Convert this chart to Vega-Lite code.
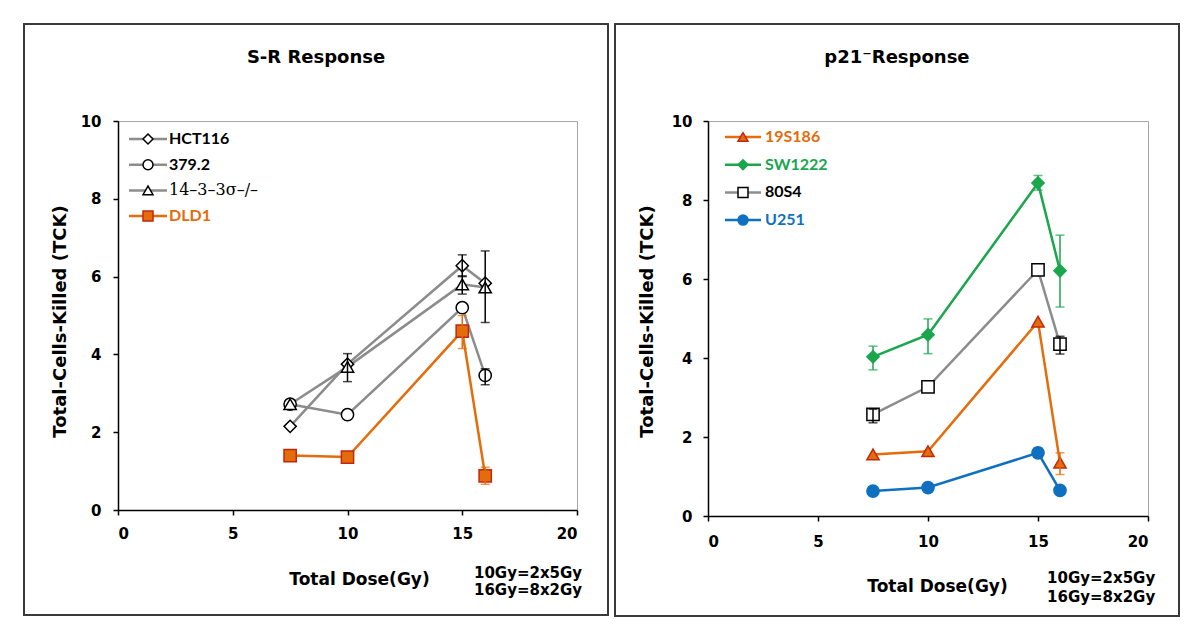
{
  "$schema": "https://vega.github.io/schema/vega-lite/v6.json",
  "background": "white",
  "padding": {"left": 22, "top": 22, "right": 0, "bottom": 0},
  "spacing": 3,
  "resolve": {
    "scale": {"x": "independent", "y": "independent", "color": "independent", "shape": "independent", "fill": "independent", "stroke": "independent"},
    "legend": {"color": "independent", "shape": "independent", "fill": "independent", "stroke": "independent"},
    "axis": {"x": "independent", "y": "independent"}
  },
  "datasets": {
    "left": [
      {"series": "HCT116", "dose": 7.5, "tck": 2.15, "lo": null, "hi": null},
      {"series": "HCT116", "dose": 10, "tck": 3.75, "lo": null, "hi": null},
      {"series": "HCT116", "dose": 15, "tck": 6.28, "lo": 6.0, "hi": 6.56},
      {"series": "HCT116", "dose": 16, "tck": 5.83, "lo": null, "hi": null},
      {"series": "379.2", "dose": 7.5, "tck": 2.72, "lo": null, "hi": null},
      {"series": "379.2", "dose": 10, "tck": 2.45, "lo": null, "hi": null},
      {"series": "379.2", "dose": 15, "tck": 5.2, "lo": null, "hi": null},
      {"series": "379.2", "dose": 16, "tck": 3.46, "lo": 3.22, "hi": 3.63},
      {"series": "14–3–3σ–/–", "dose": 7.5, "tck": 2.72, "lo": null, "hi": null},
      {"series": "14–3–3σ–/–", "dose": 10, "tck": 3.68, "lo": 3.3, "hi": 4.02},
      {"series": "14–3–3σ–/–", "dose": 15, "tck": 5.8, "lo": 5.55, "hi": 6.02},
      {"series": "14–3–3σ–/–", "dose": 16, "tck": 5.72, "lo": 4.82, "hi": 6.66},
      {"series": "DLD1", "dose": 7.5, "tck": 1.4, "lo": null, "hi": null},
      {"series": "DLD1", "dose": 10, "tck": 1.36, "lo": null, "hi": null},
      {"series": "DLD1", "dose": 15, "tck": 4.6, "lo": 4.15, "hi": 5.0},
      {"series": "DLD1", "dose": 16, "tck": 0.88, "lo": 0.66, "hi": 1.1}
    ],
    "right": [
      {"series": "19S186", "dose": 7.5, "tck": 1.56, "lo": null, "hi": null},
      {"series": "19S186", "dose": 10, "tck": 1.64, "lo": null, "hi": null},
      {"series": "19S186", "dose": 15, "tck": 4.92, "lo": null, "hi": null},
      {"series": "19S186", "dose": 16, "tck": 1.35, "lo": 1.05, "hi": 1.6},
      {"series": "SW1222", "dose": 7.5, "tck": 4.03, "lo": 3.7, "hi": 4.3},
      {"series": "SW1222", "dose": 10, "tck": 4.59, "lo": 4.11, "hi": 4.99},
      {"series": "SW1222", "dose": 15, "tck": 8.43, "lo": 8.25, "hi": 8.62},
      {"series": "SW1222", "dose": 16, "tck": 6.21, "lo": 5.29, "hi": 7.11},
      {"series": "80S4", "dose": 7.5, "tck": 2.57, "lo": 2.36, "hi": 2.7},
      {"series": "80S4", "dose": 10, "tck": 3.27, "lo": null, "hi": null},
      {"series": "80S4", "dose": 15, "tck": 6.23, "lo": null, "hi": null},
      {"series": "80S4", "dose": 16, "tck": 4.35, "lo": 4.1, "hi": 4.55},
      {"series": "U251", "dose": 7.5, "tck": 0.63, "lo": null, "hi": null},
      {"series": "U251", "dose": 10, "tck": 0.72, "lo": null, "hi": null},
      {"series": "U251", "dose": 15, "tck": 1.6, "lo": 1.48, "hi": 1.72},
      {"series": "U251", "dose": 16, "tck": 0.65, "lo": null, "hi": null}
    ]
  },
  "hconcat": [
    {
      "width": 459,
      "height": 389,
      "data": {"name": "left"},
      "layer": [
        {
          "data": {"values": [{}]},
          "mark": {"type": "rect", "filled": false, "stroke": "#3a3a3a", "strokeWidth": 2},
          "encoding": {
            "x": {"datum": -4.096, "type": "quantitative", "scale": {"domain": [0, 20], "nice": false}},
            "x2": {"datum": 21.351},
            "y": {"datum": 12.494, "type": "quantitative", "scale": {"domain": [0, 10], "nice": false}},
            "y2": {"datum": -2.699}
          }
        },
        {
          "data": {"values": [{}]},
          "mark": {"type": "text", "text": "S-R Response", "font": "DejaVu Sans", "fontWeight": "bold", "fontSize": 18, "align": "center", "baseline": "middle", "color": "black"},
          "encoding": {
            "x": {"datum": 8.63, "type": "quantitative", "scale": {"domain": [0, 20], "nice": false}},
            "y": {"datum": 11.62, "type": "quantitative", "scale": {"domain": [0, 10], "nice": false}}
          }
        },
        {
          "mark": {"type": "line", "strokeWidth": 2.5},
          "encoding": {
            "x": {"field": "dose", "type": "quantitative", "title": "Total Dose(Gy)", "scale": {"domain": [0, 20], "nice": false},
                  "axis": {"title": "Total Dose(Gy)", "values": [0, 5, 10, 15, 20], "labelPadding": 11, "titlePadding": 30, "titleFontSize": 17, "titleX": 241}},
            "y": {"field": "tck", "type": "quantitative", "title": "Total-Cells-Killed (TCK)", "scale": {"domain": [0, 10], "nice": false},
                  "axis": {"title": "Total-Cells-Killed (TCK)", "values": [0, 2, 4, 6, 8, 10], "labelPadding": 12, "titlePadding": 11, "titleFontSize": 18, "titleY": 200}},
            "color": {"field": "series", "type": "nominal", "sort": ["HCT116", "379.2", "14–3–3σ–/–", "DLD1"],
                      "scale": {"range": ["#8c8c8c", "#8c8c8c", "#8c8c8c", "#E46C0A"]},
                      "legend": {"orient": "none", "legendX": 22, "legendY": 10, "title": null, "symbolType": "M-3.8,0H3.8", "symbolSize": 100, "symbolStrokeWidth": 2.5, "labelOpacity": 0, "labelExpr": "''", "labelOffset": 13, "rowPadding": 9.7, "padding": 0}}
          }
        },
        {
          "mark": {"type": "point", "filled": true, "size": 150, "strokeWidth": 1.5, "opacity": 1},
          "encoding": {
            "x": {"field": "dose", "type": "quantitative", "title": "Total Dose(Gy)", "scale": {"domain": [0, 20], "nice": false}},
            "y": {"field": "tck", "type": "quantitative", "title": "Total-Cells-Killed (TCK)", "scale": {"domain": [0, 10], "nice": false}},
            "shape": {"field": "series", "type": "nominal",
                      "scale": {"domain": ["HCT116", "379.2", "14–3–3σ–/–", "DLD1"], "range": ["diamond", "circle", "triangle-up", "square"]},
                      "legend": {"orient": "none", "legendX": 22, "legendY": 10, "title": null, "symbolSize": 100, "symbolStrokeWidth": 1.5, "labelOffset": 13, "rowPadding": 9.7, "padding": 0,
                                 "labelColor": {"expr": "datum.value === 'DLD1' ? '#E46C0A' : '#000000'"},
                                 "labelFont": {"expr": "datum.value === '14–3–3σ–/–' ? 'DejaVu Serif' : 'Lato'"},
                                 "labelFontWeight": {"expr": "datum.value === '14–3–3σ–/–' ? 'normal' : 'bold'"}}},
            "fill": {"field": "series", "type": "nominal",
                     "scale": {"domain": ["HCT116", "379.2", "14–3–3σ–/–", "DLD1"], "range": ["#ffffff", "#ffffff", "#ffffff", "#E46C0A"]},
                     "legend": {"orient": "none", "legendX": 22, "legendY": 10, "title": null, "symbolSize": 100, "symbolStrokeWidth": 1.5, "labelOffset": 13, "rowPadding": 9.7, "padding": 0,
                                 "labelColor": {"expr": "datum.value === 'DLD1' ? '#E46C0A' : '#000000'"},
                                 "labelFont": {"expr": "datum.value === '14–3–3σ–/–' ? 'DejaVu Serif' : 'Lato'"},
                                 "labelFontWeight": {"expr": "datum.value === '14–3–3σ–/–' ? 'normal' : 'bold'"}}},
            "stroke": {"field": "series", "type": "nominal",
                       "scale": {"domain": ["HCT116", "379.2", "14–3–3σ–/–", "DLD1"], "range": ["#000000", "#000000", "#000000", "#C0280F"]},
                       "legend": {"orient": "none", "legendX": 22, "legendY": 10, "title": null, "symbolSize": 100, "symbolStrokeWidth": 1.5, "labelOffset": 13, "rowPadding": 9.7, "padding": 0,
                                 "labelColor": {"expr": "datum.value === 'DLD1' ? '#E46C0A' : '#000000'"},
                                 "labelFont": {"expr": "datum.value === '14–3–3σ–/–' ? 'DejaVu Serif' : 'Lato'"},
                                 "labelFontWeight": {"expr": "datum.value === '14–3–3σ–/–' ? 'normal' : 'bold'"}}}
          }
        },
        {
          "transform": [{"filter": "datum.lo != null && datum.series !== 'DLD1'"}],
          "mark": {"type": "errorbar", "ticks": {"size": 9}, "thickness": 1.5, "color": "#000000"},
          "encoding": {
            "x": {"field": "dose", "type": "quantitative", "title": "Total Dose(Gy)", "scale": {"domain": [0, 20], "nice": false}},
            "y": {"field": "lo", "type": "quantitative", "title": "Total-Cells-Killed (TCK)", "scale": {"domain": [0, 10], "nice": false}},
            "y2": {"field": "hi"}
          }
        },
        {
          "transform": [{"filter": "datum.lo != null && datum.series === 'DLD1'"}],
          "mark": {"type": "errorbar", "ticks": {"size": 9}, "thickness": 1.5, "color": "#E46C0A"},
          "encoding": {
            "x": {"field": "dose", "type": "quantitative", "title": "Total Dose(Gy)", "scale": {"domain": [0, 20], "nice": false}},
            "y": {"field": "lo", "type": "quantitative", "title": "Total-Cells-Killed (TCK)", "scale": {"domain": [0, 10], "nice": false}},
            "y2": {"field": "hi"}
          }
        },
        {
          "data": {"values": [{}]},
          "mark": {"type": "text", "text": "10Gy=2x5Gy", "font": "DejaVu Sans", "fontWeight": "bold", "fontSize": 15, "align": "left", "baseline": "middle", "color": "black"},
          "encoding": {
            "x": {"datum": 15.51, "type": "quantitative", "scale": {"domain": [0, 20], "nice": false}},
            "y": {"datum": -1.62, "type": "quantitative", "scale": {"domain": [0, 10], "nice": false}}
          }
        },
        {
          "data": {"values": [{}]},
          "mark": {"type": "text", "text": "16Gy=8x2Gy", "font": "DejaVu Sans", "fontWeight": "bold", "fontSize": 15, "align": "left", "baseline": "middle", "color": "black"},
          "encoding": {
            "x": {"datum": 15.51, "type": "quantitative", "scale": {"domain": [0, 20], "nice": false}},
            "y": {"datum": -2.06, "type": "quantitative", "scale": {"domain": [0, 10], "nice": false}}
          }
        }
      ]
    },
    {
      "width": 440,
      "height": 395,
      "data": {"name": "right"},
      "layer": [
        {
          "data": {"values": [{}]},
          "mark": {"type": "rect", "filled": false, "stroke": "#3a3a3a", "strokeWidth": 2},
          "encoding": {
            "x": {"datum": -4.227, "type": "quantitative", "scale": {"domain": [0, 20], "nice": false}},
            "x2": {"datum": 21.409},
            "y": {"datum": 12.456, "type": "quantitative", "scale": {"domain": [0, 10], "nice": false}},
            "y2": {"datum": -2.532}
          }
        },
        {
          "data": {"values": [{}]},
          "mark": {"type": "text", "text": "p21⁻Response", "font": "DejaVu Sans", "fontWeight": "bold", "fontSize": 18, "align": "center", "baseline": "middle", "color": "black"},
          "encoding": {
            "x": {"datum": 8.59, "type": "quantitative", "scale": {"domain": [0, 20], "nice": false}},
            "y": {"datum": 11.59, "type": "quantitative", "scale": {"domain": [0, 10], "nice": false}}
          }
        },
        {
          "mark": {"type": "line", "strokeWidth": 2.5},
          "encoding": {
            "x": {"field": "dose", "type": "quantitative", "title": "Total Dose(Gy)", "scale": {"domain": [0, 20], "nice": false},
                  "axis": {"title": "Total Dose(Gy)", "values": [0, 5, 10, 15, 20], "labelPadding": 13, "titlePadding": 29, "titleFontSize": 17, "titleX": 229}},
            "y": {"field": "tck", "type": "quantitative", "title": "Total-Cells-Killed (TCK)", "scale": {"domain": [0, 10], "nice": false},
                  "axis": {"title": "Total-Cells-Killed (TCK)", "values": [0, 2, 4, 6, 8, 10], "labelPadding": 11, "titlePadding": 15, "titleFontSize": 18, "titleY": 200}},
            "color": {"field": "series", "type": "nominal", "sort": ["19S186", "SW1222", "80S4", "U251"],
                      "scale": {"range": ["#E46C0A", "#1aa64c", "#8c8c8c", "#0F70C0"]},
                      "legend": {"orient": "none", "legendX": 27, "legendY": 8, "title": null, "symbolType": "M-3.6,0H3.6", "symbolSize": 100, "symbolStrokeWidth": 2.5, "labelOpacity": 0, "labelExpr": "''", "labelOffset": 14, "rowPadding": 11.7, "padding": 0}}
          }
        },
        {
          "mark": {"type": "point", "filled": true, "size": 150, "strokeWidth": 1.5, "opacity": 1},
          "encoding": {
            "x": {"field": "dose", "type": "quantitative", "title": "Total Dose(Gy)", "scale": {"domain": [0, 20], "nice": false}},
            "y": {"field": "tck", "type": "quantitative", "title": "Total-Cells-Killed (TCK)", "scale": {"domain": [0, 10], "nice": false}},
            "shape": {"field": "series", "type": "nominal",
                      "scale": {"domain": ["19S186", "SW1222", "80S4", "U251"], "range": ["triangle-up", "diamond", "square", "circle"]},
                      "legend": {"orient": "none", "legendX": 27, "legendY": 8, "title": null, "symbolSize": 100, "symbolStrokeWidth": 1.5, "labelOffset": 14, "rowPadding": 11.7, "padding": 0,
                                 "labelColor": {"expr": "datum.value === '19S186' ? '#E46C0A' : datum.value === 'SW1222' ? '#1aa64c' : datum.value === 'U251' ? '#0F70C0' : '#000000'"}}},
            "fill": {"field": "series", "type": "nominal",
                     "scale": {"domain": ["19S186", "SW1222", "80S4", "U251"], "range": ["#E46C0A", "#1aa64c", "#ffffff", "#0F70C0"]},
                     "legend": {"orient": "none", "legendX": 27, "legendY": 8, "title": null, "symbolSize": 100, "symbolStrokeWidth": 1.5, "labelOffset": 14, "rowPadding": 11.7, "padding": 0,
                                 "labelColor": {"expr": "datum.value === '19S186' ? '#E46C0A' : datum.value === 'SW1222' ? '#1aa64c' : datum.value === 'U251' ? '#0F70C0' : '#000000'"}}},
            "stroke": {"field": "series", "type": "nominal",
                       "scale": {"domain": ["19S186", "SW1222", "80S4", "U251"], "range": ["#C0280F", "#1aa64c", "#000000", "#0F70C0"]},
                       "legend": {"orient": "none", "legendX": 27, "legendY": 8, "title": null, "symbolSize": 100, "symbolStrokeWidth": 1.5, "labelOffset": 14, "rowPadding": 11.7, "padding": 0,
                                 "labelColor": {"expr": "datum.value === '19S186' ? '#E46C0A' : datum.value === 'SW1222' ? '#1aa64c' : datum.value === 'U251' ? '#0F70C0' : '#000000'"}}}
          }
        },
        {
          "transform": [{"filter": "datum.lo != null && datum.series === 'SW1222'"}],
          "mark": {"type": "errorbar", "ticks": {"size": 9}, "thickness": 1.5, "color": "#1aa64c"},
          "encoding": {
            "x": {"field": "dose", "type": "quantitative", "title": "Total Dose(Gy)", "scale": {"domain": [0, 20], "nice": false}},
            "y": {"field": "lo", "type": "quantitative", "title": "Total-Cells-Killed (TCK)", "scale": {"domain": [0, 10], "nice": false}},
            "y2": {"field": "hi"}
          }
        },
        {
          "transform": [{"filter": "datum.lo != null && datum.series === '80S4'"}],
          "mark": {"type": "errorbar", "ticks": {"size": 9}, "thickness": 1.5, "color": "#000000"},
          "encoding": {
            "x": {"field": "dose", "type": "quantitative", "title": "Total Dose(Gy)", "scale": {"domain": [0, 20], "nice": false}},
            "y": {"field": "lo", "type": "quantitative", "title": "Total-Cells-Killed (TCK)", "scale": {"domain": [0, 10], "nice": false}},
            "y2": {"field": "hi"}
          }
        },
        {
          "transform": [{"filter": "datum.lo != null && datum.series === '19S186'"}],
          "mark": {"type": "errorbar", "ticks": {"size": 9}, "thickness": 1.5, "color": "#E46C0A"},
          "encoding": {
            "x": {"field": "dose", "type": "quantitative", "title": "Total Dose(Gy)", "scale": {"domain": [0, 20], "nice": false}},
            "y": {"field": "lo", "type": "quantitative", "title": "Total-Cells-Killed (TCK)", "scale": {"domain": [0, 10], "nice": false}},
            "y2": {"field": "hi"}
          }
        },
        {
          "transform": [{"filter": "datum.lo != null && datum.series === 'U251'"}],
          "mark": {"type": "errorbar", "ticks": {"size": 9}, "thickness": 1.5, "color": "#0F70C0"},
          "encoding": {
            "x": {"field": "dose", "type": "quantitative", "title": "Total Dose(Gy)", "scale": {"domain": [0, 20], "nice": false}},
            "y": {"field": "lo", "type": "quantitative", "title": "Total-Cells-Killed (TCK)", "scale": {"domain": [0, 10], "nice": false}},
            "y2": {"field": "hi"}
          }
        },
        {
          "data": {"values": [{}]},
          "mark": {"type": "text", "text": "10Gy=2x5Gy", "font": "DejaVu Sans", "fontWeight": "bold", "fontSize": 15, "align": "left", "baseline": "middle", "color": "black"},
          "encoding": {
            "x": {"datum": 15.41, "type": "quantitative", "scale": {"domain": [0, 20], "nice": false}},
            "y": {"datum": -1.57, "type": "quantitative", "scale": {"domain": [0, 10], "nice": false}}
          }
        },
        {
          "data": {"values": [{}]},
          "mark": {"type": "text", "text": "16Gy=8x2Gy", "font": "DejaVu Sans", "fontWeight": "bold", "fontSize": 15, "align": "left", "baseline": "middle", "color": "black"},
          "encoding": {
            "x": {"datum": 15.41, "type": "quantitative", "scale": {"domain": [0, 20], "nice": false}},
            "y": {"datum": -2.05, "type": "quantitative", "scale": {"domain": [0, 10], "nice": false}}
          }
        }
      ]
    }
  ],
  "config": {
    "view": {"stroke": "#a6a6a6", "strokeWidth": 1},
    "axis": {
      "grid": false,
      "domainColor": "#000000",
      "domainWidth": 1.5,
      "tickColor": "#000000",
      "tickWidth": 1.5,
      "tickSize": 5,
      "labelFont": "DejaVu Sans",
      "labelFontWeight": "bold",
      "labelFontSize": 15,
      "labelColor": "#000000",
      "titleFont": "DejaVu Sans",
      "titleFontWeight": "bold",
      "titleColor": "#000000"
    },
    "legend": {
      "labelFont": "Lato",
      "labelFontWeight": "bold",
      "labelFontSize": 16,
      "symbolOffset": 0
    }
  }
}
